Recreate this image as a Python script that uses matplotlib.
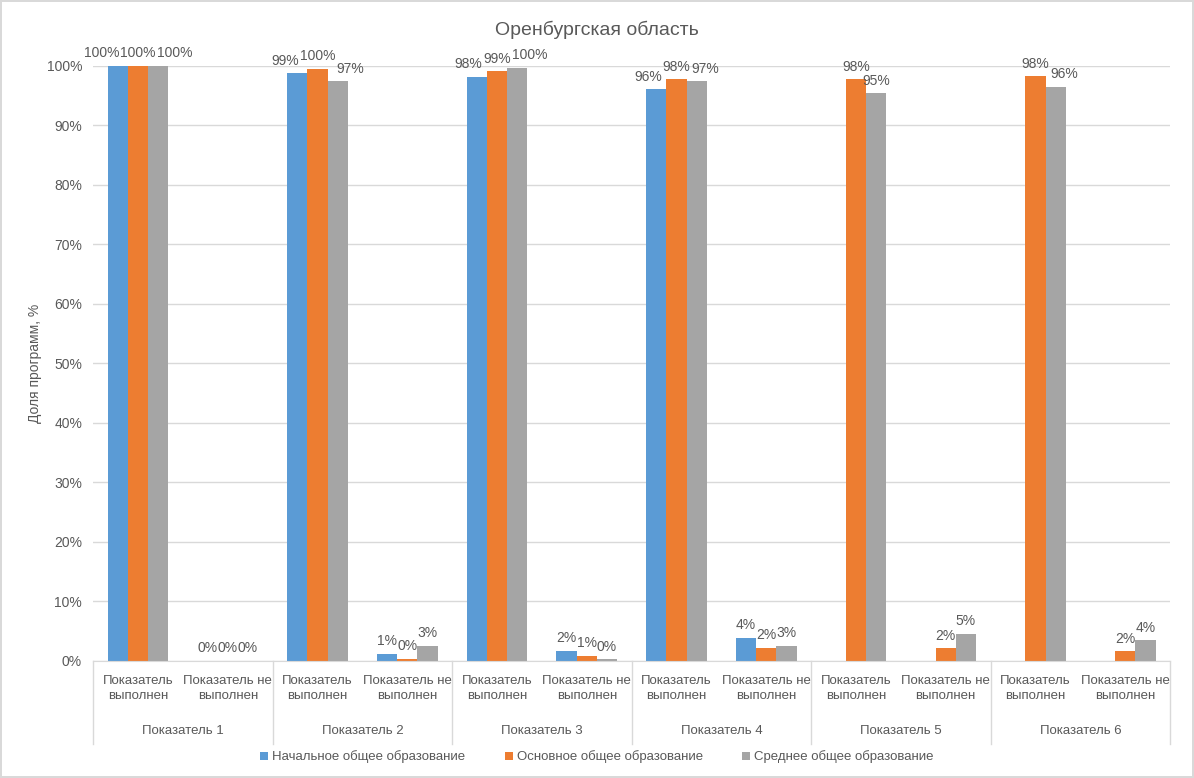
import numpy as np
import matplotlib.pyplot as plt
from matplotlib.transforms import blended_transform_factory

plt.rcParams['font.family'] = ['Liberation Sans', 'DejaVu Sans']

groups = ['Показатель 1', 'Показатель 2', 'Показатель 3',
          'Показатель 4', 'Показатель 5', 'Показатель 6']
sub_labels = ['Показатель\nвыполнен', 'Показатель не\nвыполнен']
series = ['Начальное общее образование', 'Основное общее образование',
          'Среднее общее образование']

# percent values, one entry per category (group x done / not done)
nachalnoe = [100, 0, 98.8, 1.2, 98.2, 1.7, 96.1, 3.9, np.nan, np.nan, np.nan, np.nan]
osnovnoe = [100, 0, 99.5, 0.4, 99.1, 0.9, 97.8, 2.2, 97.8, 2.1, 98.3, 1.6]
srednee = [100, 0, 97.4, 2.6, 99.7, 0.3, 97.4, 2.6, 95.4, 4.6, 96.5, 3.5]

colors = ['#5B9BD5', '#ED7D31', '#A5A5A5']
text_col = '#595959'

fig = plt.figure(figsize=(11.94, 7.78), dpi=100)
fig.patch.set_edgecolor('#D9D9D9')
fig.patch.set_linewidth(1.5)
ax = fig.add_axes([0.078, 0.1504, 0.902, 0.7648])

x = np.arange(len(nachalnoe))
w = 0.225
all_labels = []
for i, (vals, c, name) in enumerate(zip([nachalnoe, osnovnoe, srednee], colors, series)):
    bars = ax.bar(x + (i - 1) * w, vals, width=w, color=c, label=name, zorder=2)
    labels = ['' if np.isnan(v) else '%d%%' % round(v) for v in vals]
    all_labels.append(ax.bar_label(bars, labels=labels, padding=4, fontsize=10,
                                   color=text_col))

ax.set_xlim(-0.5, len(x) - 0.5)
ax.set_ylim(0, 100)
ax.set_yticks(np.arange(0, 101, 10))
ax.set_yticklabels(['%d%%' % t for t in range(0, 101, 10)], fontsize=10, color=text_col)
ax.yaxis.grid(True, color='#D9D9D9', linewidth=1, zorder=0)
ax.tick_params(axis='y', length=0, pad=8)

ax.set_xticks(x)
ax.set_xticklabels(sub_labels * len(groups), fontsize=9.5, color=text_col, linespacing=1.4)
ax.tick_params(axis='x', length=0, pad=10)

for s in ['top', 'right', 'left']:
    ax.spines[s].set_visible(False)
ax.spines['bottom'].set_color('#D9D9D9')

trans = blended_transform_factory(ax.transData, ax.transAxes)
for k in range(len(groups) + 1):
    ax.plot([2 * k - 0.5, 2 * k - 0.5], [0, -0.14], color='#D9D9D9', linewidth=1,
            transform=trans, clip_on=False)
for k, g in enumerate(groups):
    ax.text(2 * k + 0.5, -0.118, g, transform=trans, ha='center', va='center',
            fontsize=9.5, color=text_col)

ax.set_ylabel('Доля программ, %', fontsize=10, color=text_col, labelpad=3)
fig.text(0.5, 0.962, 'Оренбургская область', ha='center', va='center',
         fontsize=14, color=text_col)

fig.legend(loc='center', bbox_to_anchor=(0.5, 0.027), ncol=3, frameon=False,
           fontsize=9.5, handlelength=0.6, handleheight=0.6, handletextpad=0.3,
           columnspacing=3, labelcolor=text_col)

# push apart value labels that collide (like the spreadsheet does)
fig.canvas.draw()
r = fig.canvas.get_renderer()
px_to_pt = 72 / fig.dpi
for j in range(len(x)):
    left, mid, right = all_labels[0][j], all_labels[1][j], all_labels[2][j]
    for a, b, side in [(left, mid, -1), (mid, right, 1)]:
        if not a.get_text() or not b.get_text():
            continue
        ea, eb = a.get_window_extent(r), b.get_window_extent(r)
        if ea.y0 < eb.y1 and eb.y0 < ea.y1 and ea.x1 > eb.x0:
            shift = (ea.x1 - eb.x0 + 1) * px_to_pt
            moved = a if side < 0 else b
            dx, dy = moved.xyann
            moved.xyann = (dx + side * shift, dy)

fig.savefig('out.png', dpi=100)
